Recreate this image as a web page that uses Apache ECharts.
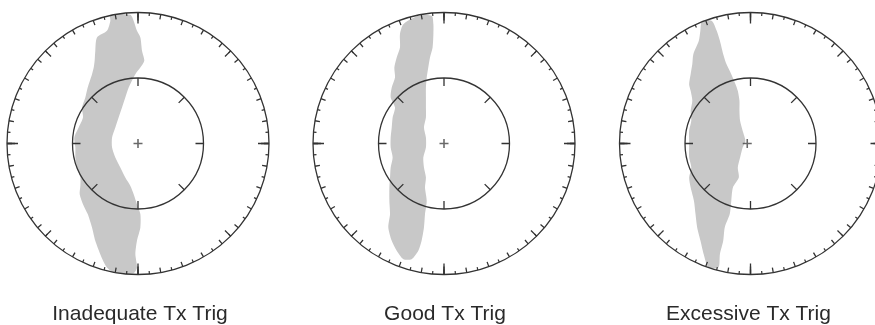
<!DOCTYPE html>
<html>
<head>
<meta charset="utf-8">
<script src="https://cdn.jsdelivr.net/npm/echarts@6/dist/echarts.min.js"></script>
<style>
  html, body { margin: 0; padding: 0; background: #fff; }
  #chart { width: 875px; height: 325px; }
</style>
</head>
<body>
<div id="chart"></div>
<script>
// panel titles
const panelNames = ['Inadequate Tx Trig', 'Good Tx Trig', 'Excessive Tx Trig']

// gray regions, in units of the outer radius (center = 0,0)
// each level y has a left edge and a right edge
const blobY1 = [0.982, 0.936, 0.860, 0.809, 0.707, 0.631, 0.580, 0.529, 0.427, 0.351, 0.275, 0.198, 0.122, 0.046, -0.031, -0.107, -0.183, -0.260, -0.323, -0.387, -0.463, -0.539, -0.641, -0.743, -0.845, -0.947, -0.990]
const blobLeft1 = [-0.211, -0.211, -0.237, -0.313, -0.326, -0.331, -0.338, -0.351, -0.384, -0.402, -0.427, -0.420, -0.453, -0.486, -0.478, -0.478, -0.466, -0.440, -0.440, -0.445, -0.420, -0.384, -0.351, -0.326, -0.288, -0.237, -0.173]
const blobRight1 = [-0.059, -0.033, -0.008, 0.018, 0.031, 0.048, 0.018, -0.020, -0.071, -0.097, -0.122, -0.148, -0.173, -0.198, -0.198, -0.173, -0.135, -0.097, -0.059, -0.033, -0.008, 0.018, 0.018, -0.008, -0.020, -0.008, -0.033]

const blobY2 = [0.975, 0.911, 0.835, 0.733, 0.656, 0.580, 0.504, 0.427, 0.351, 0.275, 0.198, 0.122, 0.046, -0.031, -0.107, -0.183, -0.260, -0.336, -0.438, -0.539, -0.641, -0.743, -0.819, -0.883]
const blobLeft2 = [-0.196, -0.310, -0.336, -0.336, -0.361, -0.379, -0.374, -0.399, -0.407, -0.374, -0.392, -0.399, -0.407, -0.407, -0.392, -0.407, -0.412, -0.417, -0.417, -0.412, -0.425, -0.399, -0.361, -0.310]
const blobRight2 = [-0.094, -0.081, -0.081, -0.087, -0.107, -0.120, -0.132, -0.138, -0.138, -0.138, -0.138, -0.153, -0.138, -0.138, -0.158, -0.153, -0.138, -0.145, -0.132, -0.145, -0.153, -0.171, -0.196, -0.247]

const blobY3 = [0.936, 0.860, 0.784, 0.682, 0.606, 0.529, 0.453, 0.402, 0.326, 0.249, 0.173, 0.097, 0.020, -0.031, -0.107, -0.183, -0.260, -0.336, -0.438, -0.539, -0.641, -0.743, -0.845, -0.947]
const blobLeft3 = [-0.354, -0.367, -0.379, -0.422, -0.430, -0.443, -0.455, -0.443, -0.430, -0.443, -0.438, -0.455, -0.455, -0.455, -0.455, -0.438, -0.455, -0.443, -0.417, -0.405, -0.392, -0.366, -0.341, -0.303]
const blobRight3 = [-0.277, -0.239, -0.214, -0.188, -0.163, -0.125, -0.092, -0.074, -0.061, -0.061, -0.056, -0.036, -0.015, -0.036, -0.056, -0.074, -0.066, -0.112, -0.125, -0.137, -0.176, -0.188, -0.214, -0.226]

const blobs = [
  [blobY1, blobLeft1, blobRight1],
  [blobY2, blobLeft2, blobRight2],
  [blobY3, blobLeft3, blobRight3]
]

const centersX = [138, 444, 750.5]
const labelX = [140, 445, 748.5]
const centerY = 143.5
const outerR = 131
const innerR = 65.5
const lineColor = '#333'

const chart = echarts.init(document.getElementById('chart'))

let polar = [], angleAxis = [], radiusAxis = []
let grid = [], xAxis = [], yAxis = [], series = [], graphic = []

// one ring of ticks: [radius, interval, tick length, minor ticks?, draw circle?]
const rings = [
  [outerR, 10, 5, true, true],
  [outerR, 45, 8, false, false],
  [outerR, 90, 11, false, false],
  [innerR, 45, 8, false, true]
]

centersX.forEach(function(cx, p) {
  rings.forEach(function(r) {
    const idx = polar.length
    polar.push({ center: [cx, centerY], radius: r[0] })
    angleAxis.push({
      polarIndex: idx,
      type: 'value',
      min: 0,
      max: 360,
      interval: r[1],
      startAngle: 90,
      z: 5,
      axisLine: { show: r[4], lineStyle: { color: lineColor, width: 1.3 } },
      axisTick: { show: true, inside: true, length: r[2], lineStyle: { color: lineColor, width: 1.3 } },
      minorTick: { show: r[3], splitNumber: 2, length: 3, lineStyle: { color: lineColor, width: 1.2 } },
      axisLabel: { show: false },
      splitLine: { show: false }
    })
    radiusAxis.push({ polarIndex: idx, show: false, min: 0, max: 1 })
  })

  grid.push({ left: cx - outerR, top: centerY - outerR, width: outerR * 2, height: outerR * 2 })
  xAxis.push({ gridIndex: p, type: 'value', min: -1, max: 1, show: false })
  yAxis.push({ gridIndex: p, type: 'value', min: -1, max: 1, show: false })

  const b = blobs[p]
  series.push({
    type: 'custom',
    xAxisIndex: p,
    yAxisIndex: p,
    z: 1,
    silent: true,
    data: [[0, 0]],
    renderItem: function(params, api) {
      const pts = []
      for (let i = 0; i < b[0].length; i++) pts.push(api.coord([b[1][i], b[0][i]]))
      for (let i = b[0].length - 1; i >= 0; i--) pts.push(api.coord([b[2][i], b[0][i]]))
      return { type: 'polygon', shape: { points: pts, smooth: 0.25 }, style: { fill: '#c8c8c8' } }
    }
  })
  // center cross
  series.push({
    type: 'scatter',
    xAxisIndex: p,
    yAxisIndex: p,
    z: 6,
    silent: true,
    symbol: 'path://M3.3,0h1.4v3.3h3.3v1.4h-3.3v3.3h-1.4v-3.3h-3.3v-1.4h3.3z',
    symbolSize: 9,
    itemStyle: { color: '#444' },
    data: [[0, 0]]
  })

  graphic.push({
    type: 'text',
    x: labelX[p],
    y: 325,
    style: {
      text: panelNames[p],
      align: 'center',
      verticalAlign: 'bottom',
      font: '21px "Liberation Sans", Arial, sans-serif',
      fill: '#2a2a2a'
    }
  })
})

chart.setOption({
  animation: false,
  polar: polar,
  angleAxis: angleAxis,
  radiusAxis: radiusAxis,
  grid: grid,
  xAxis: xAxis,
  yAxis: yAxis,
  series: series,
  graphic: graphic
})
</script>
</body>
</html>
